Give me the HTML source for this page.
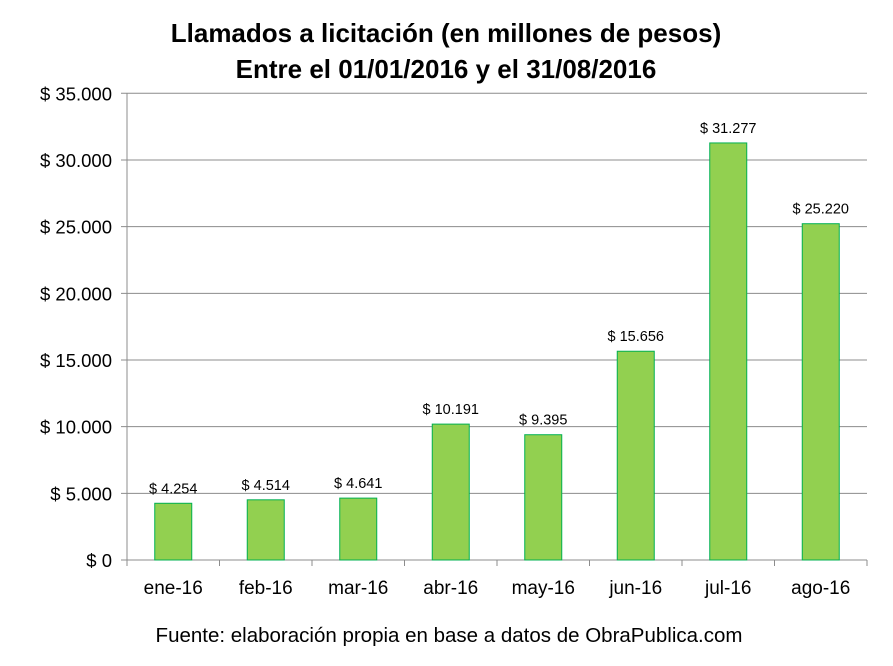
<!DOCTYPE html>
<html><head><meta charset="utf-8"><style>
body{margin:0;background:#fff;}
svg{display:block;font-family:"Liberation Sans",Calibri,sans-serif;}
</style></head><body>
<svg width="893" height="666">
<text x="446" y="42" text-anchor="middle" font-size="26" font-weight="bold" fill="#000">Llamados a licitación (en millones de pesos)</text>
<text x="446" y="78" text-anchor="middle" font-size="26" font-weight="bold" fill="#000">Entre el 01/01/2016 y el 31/08/2016</text>
<g id="grid"></g><g id="bars"></g><g id="axes"></g>
<text x="449" y="642" text-anchor="middle" font-size="20.5" fill="#000">Fuente: elaboración propia en base a datos de ObraPublica.com</text>
</svg>
<script>
const categories=["ene-16","feb-16","mar-16","abr-16","may-16","jun-16","jul-16","ago-16"];
const values=[4254,4514,4641,10191,9395,15656,31277,25220];
const valueLabels=["$ 4.254","$ 4.514","$ 4.641","$ 10.191","$ 9.395","$ 15.656","$ 31.277","$ 25.220"];
const yTicks=[0,5000,10000,15000,20000,25000,30000,35000];
const yTickLabels=["$ 0","$ 5.000","$ 10.000","$ 15.000","$ 20.000","$ 25.000","$ 30.000","$ 35.000"];
const NS="http://www.w3.org/2000/svg";
const x0=127,x1=867,y0=560,yTop=93.3,yMax=35000;
const bw=(x1-x0)/categories.length;
const y=v=>y0-(v/yMax)*(y0-yTop);
const xc=i=>x0+bw*(i+0.5);
function mk(p,t,a){const e=document.createElementNS(NS,t);for(const k in a)e.setAttribute(k,a[k]);p.appendChild(e);return e;}
const grid=document.getElementById('grid'),bars=document.getElementById('bars'),axes=document.getElementById('axes');
yTicks.forEach((t,i)=>{
 const l=mk(grid,'line',{x1:x0-6,x2:x1,y1:y(t),y2:y(t),stroke:'#8c8c8c','stroke-width':1});
 
 
 const tx=mk(axes,'text',{x:112,y:y(t)+7,'text-anchor':'end','font-size':18.5,fill:'#000'});
 tx.textContent=yTickLabels[i];
 
 
});
const ya=mk(axes,'line',{x1:x0,x2:x0,y1:yTop,y2:y0,stroke:'#8c8c8c'});


for(let i=0;i<=categories.length;i++){
 const tk=mk(axes,'line',{x1:x0+bw*i,x2:x0+bw*i,y1:y0,y2:y0+6,stroke:'#8c8c8c'});
 
 
}
categories.forEach((c,i)=>{
 const w=37;
 const r=mk(bars,'rect',{x:xc(i)-w/2,y:y(values[i]),width:w,height:y0-y(values[i]),fill:'#92d050',stroke:'#00b050','stroke-width':1});
 
 
 const vl=mk(bars,'text',{x:xc(i),y:y(values[i])-10,'text-anchor':'middle','font-size':14.5,fill:'#000'});
 vl.textContent=valueLabels[i];
 
 
 const cl=mk(axes,'text',{x:xc(i),y:594,'text-anchor':'middle','font-size':19,fill:'#000'});
 cl.textContent=c;
 
 
});
</script>
</body></html>
